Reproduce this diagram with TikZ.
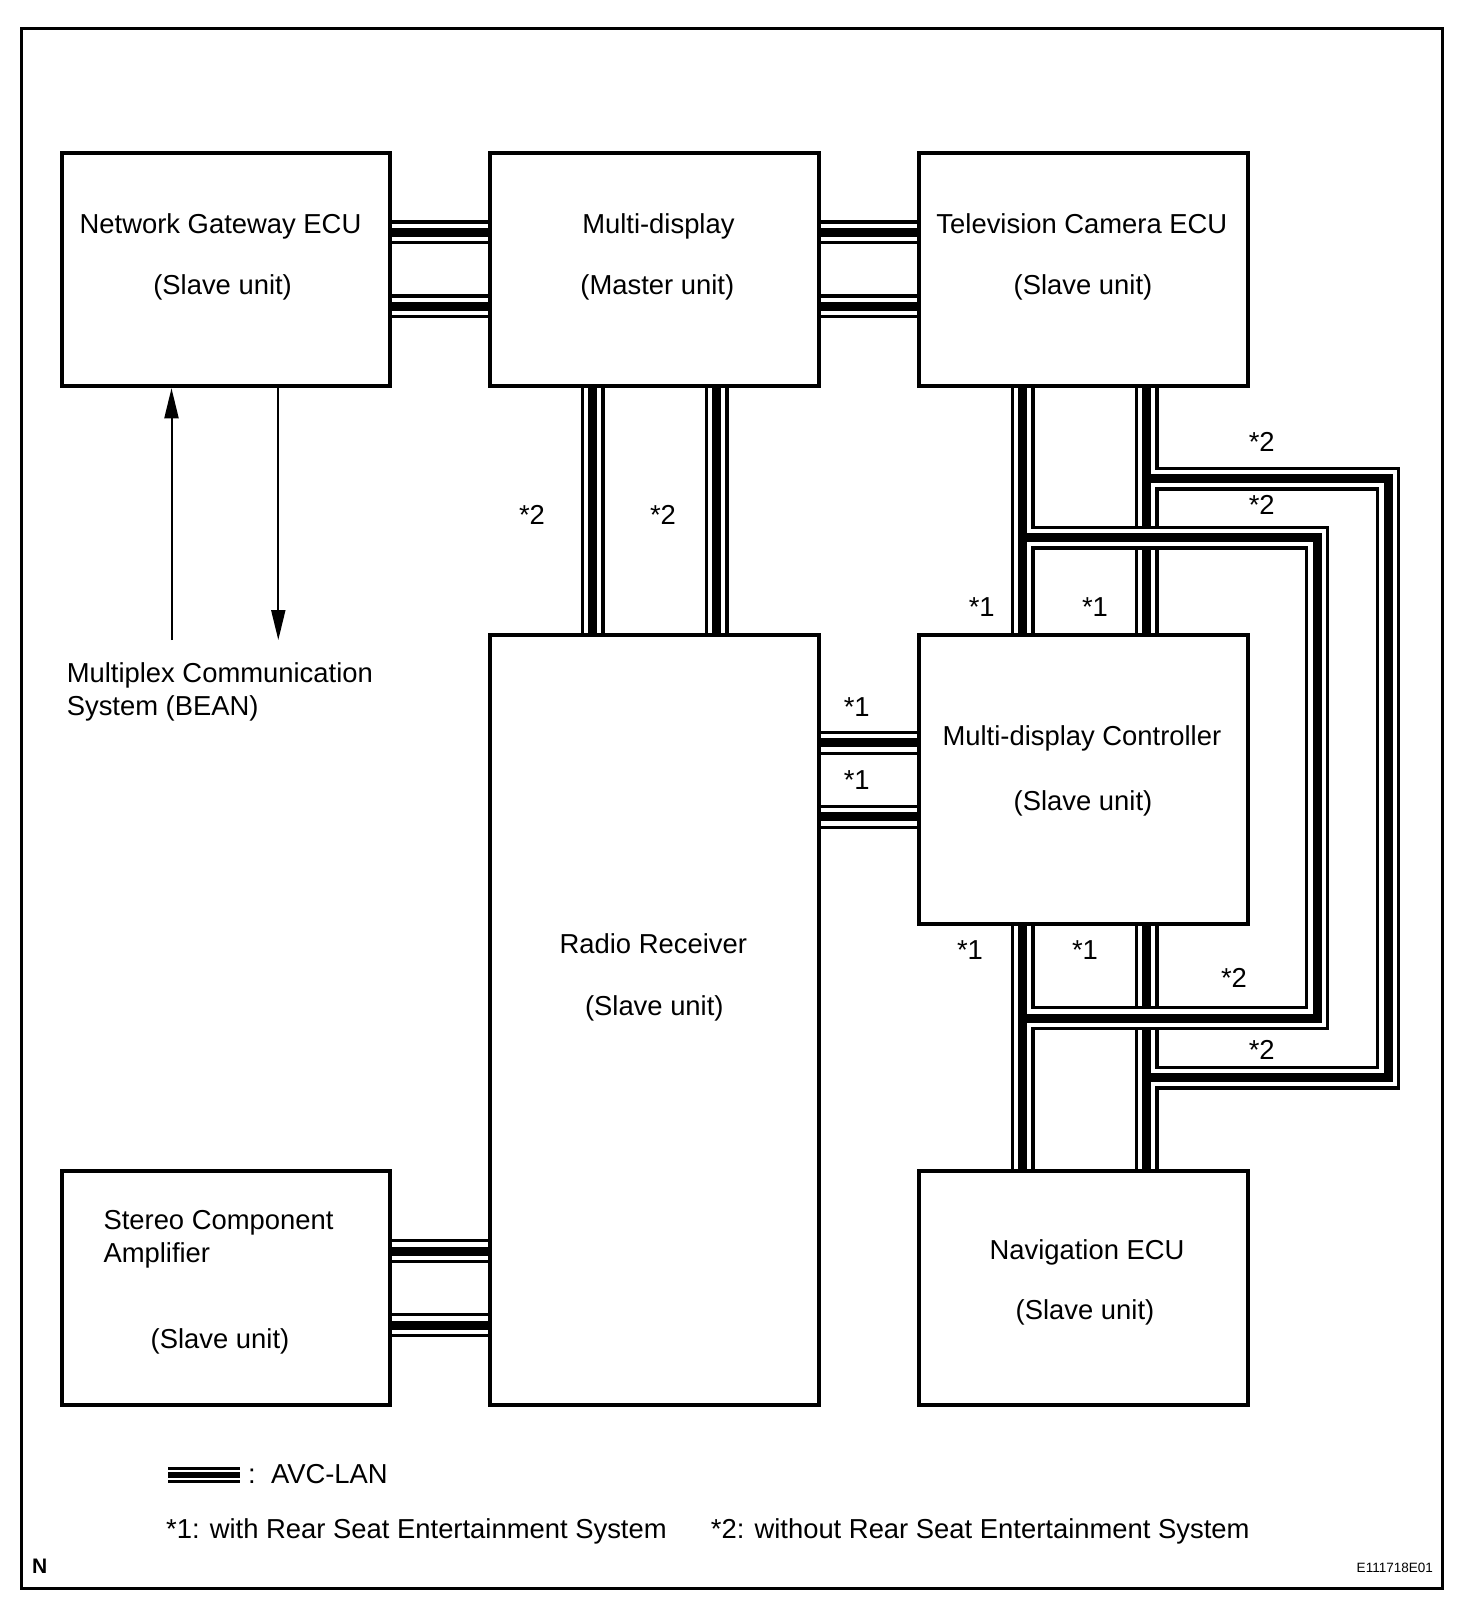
\documentclass[tikz,border=0pt]{standalone}
\usepackage{fontspec}
\setmainfont{Liberation Sans}
\usetikzlibrary{arrows.meta}
\begin{document}
\begin{tikzpicture}[x=1pt,y=-1pt,
  box/.style={draw, line width=4pt, inner sep=0pt, anchor=center},
  txt/.style={inner sep=0pt, font=\fontsize{27.4}{32}\selectfont, anchor=base},
  ltxt/.style={inner sep=0pt, font=\fontsize{27.4}{32}\selectfont, anchor=base west},
  lbl/.style={inner sep=0pt, font=\fontsize{27.4}{32}\selectfont, anchor=center},
  arr/.style={line width=2pt, -{Triangle[length=30pt,width=14pt]}}
]
\useasboundingbox (0,0) rectangle (1472,1608);
\draw[line width=3pt] (21.5,29) rectangle (1442,1588);

% boxes
\node[box, minimum width=328pt, minimum height=233.5pt] (ng) at (225.5,269.5) {};
\node[box, minimum width=328.5pt, minimum height=233.5pt] (md) at (654.5,269.5) {};
\node[box, minimum width=328.7pt, minimum height=233.5pt] (tv) at (1083.2,269.5) {};
\node[box, minimum width=328.5pt, minimum height=770pt] (radio) at (654.5,1020) {};
\node[box, minimum width=328.7pt, minimum height=288.5pt] (mdc) at (1083.2,779.25) {};
\node[box, minimum width=328.7pt, minimum height=234pt] (nav) at (1083.2,1288) {};
\node[box, minimum width=328pt, minimum height=234pt] (st) at (225.5,1288) {};

% junction coordinates
\coordinate (ja1) at (1146.7,478.7);
\coordinate (ja2) at (1388,478.7);
\coordinate (ja3) at (1388,1077.5);
\coordinate (ja4) at (1146.7,1077.5);
\coordinate (jb1) at (1022.5,537.5);
\coordinate (jb2) at (1317,537.5);
\coordinate (jb3) at (1317,1018);
\coordinate (jb4) at (1022.5,1018);

% simple AVC-LAN cables
\foreach \w/\c in {24/black,17.5/white,9/black}{
  \draw[line width=\w pt, draw=\c]
    (ng.east |- 0,232.3) -- (md.west |- 0,232.3)
    (ng.east |- 0,306.3) -- (md.west |- 0,306.3)
    (md.east |- 0,232.3) -- (tv.west |- 0,232.3)
    (md.east |- 0,306.3) -- (tv.west |- 0,306.3)
    (md.south -| 592.5,0) -- (radio.north -| 592.5,0)
    (md.south -| 716.5,0) -- (radio.north -| 716.5,0)
    (radio.east |- 0,742.8) -- (mdc.west |- 0,742.8)
    (radio.east |- 0,816.8) -- (mdc.west |- 0,816.8)
    (st.east |- 0,1251) -- (radio.west |- 0,1251)
    (st.east |- 0,1325) -- (radio.west |- 0,1325);
}
% right cables with outer bypass (*2)
\foreach \w/\c in {24/black,17.5/white,9/black}{
  \draw[line width=\w pt, draw=\c, line join=miter]
    (tv.south -| 1146.7,0) -- (mdc.north -| 1146.7,0)
    (mdc.south -| 1146.7,0) -- (nav.north -| 1146.7,0)
    (ja1) -- (ja2) -- (ja3) -- (ja4);
}
% left cables with inner bypass (*2)
\foreach \w/\c in {24/black,17.5/white,9/black}{
  \draw[line width=\w pt, draw=\c, line join=miter]
    (tv.south -| 1022.5,0) -- (mdc.north -| 1022.5,0)
    (mdc.south -| 1022.5,0) -- (nav.north -| 1022.5,0)
    (jb1) -- (jb2) -- (jb3) -- (jb4);
}

% box texts
\node[txt] (ngt1) at (220.5,233.6) {Network Gateway ECU};
\node[txt] (ngt2) at (222.6,294) {(Slave unit)};
\node[txt] (mdt1) at (658.4,233.6) {Multi-display};
\node[txt] (mdt2) at (657.3,294) {(Master unit)};
\node[txt] (tvt1) at (1081.9,233.6) {Television Camera ECU};
\node[txt] (tvt2) at (1083,294) {(Slave unit)};
\node[txt] (mdct1) at (1081.9,745) {Multi-display Controller};
\node[txt] (mdct2) at (1083,810) {(Slave unit)};
\node[txt] (rt1) at (653.3,953.5) {Radio Receiver};
\node[txt] (rt2) at (654.3,1015) {(Slave unit)};
\node[txt] (navt1) at (1087,1259) {Navigation ECU};
\node[txt] (navt2) at (1085,1319.6) {(Slave unit)};
\node[ltxt] (stt1) at (103.3,1229) {Stereo Component};
\node[ltxt] (stt2) at (103.3,1262.5) {Amplifier};
\node[txt] (stt3) at (220,1348) {(Slave unit)};

% BEAN
\node[ltxt] (bean1) at (66.6,682.7) {Multiplex Communication};
\node[ltxt] (bean2) at (66.6,715.5) {System (BEAN)};
\coordinate (bup) at (171.5,640);
\coordinate (bdn) at (278.3,640);
\draw[arr] (bup) -- (ng.south -| bup);
\draw[arr] (ng.south -| bdn) -- (bdn);

% star labels
\node[lbl] (l1) at (532,515) {*2};
\node[lbl] (l2) at (663,515) {*2};
\node[lbl] (l3) at (1261.7,441.7) {*2};
\node[lbl] (l4) at (1261.7,505) {*2};
\node[lbl] (l5) at (981.7,606.7) {*1};
\node[lbl] (l6) at (1095,606.7) {*1};
\node[lbl] (l7) at (856.7,706.7) {*1};
\node[lbl] (l8) at (856.7,780) {*1};
\node[lbl] (l9) at (970,950) {*1};
\node[lbl] (l10) at (1085,950) {*1};
\node[lbl] (l11) at (1234,978) {*2};
\node[lbl] (l12) at (1261.7,1050) {*2};

% legend
\coordinate (lg1) at (168,1475);
\coordinate (lg2) at (240,1475);
\foreach \w/\c in {15.5/black,10.5/white,6/black}{
  \draw[line width=\w pt, draw=\c] (lg1) -- (lg2);
}
\node[ltxt] (lgt) at (248,1483) {:\ \ AVC-LAN};
\node[ltxt] (n1) at (166,1538) {*1: with Rear Seat Entertainment System};
\node[ltxt] (n2) at (710.7,1538) {*2: without Rear Seat Entertainment System};
\node[inner sep=0pt, font=\fontsize{21}{24}\selectfont\bfseries, anchor=base west] (nn) at (32,1573) {N};
\node[inner sep=0pt, font=\fontsize{13.5}{16}\selectfont, anchor=base east] (code) at (1433,1572) {E111718E01};
\end{tikzpicture}
\end{document}
